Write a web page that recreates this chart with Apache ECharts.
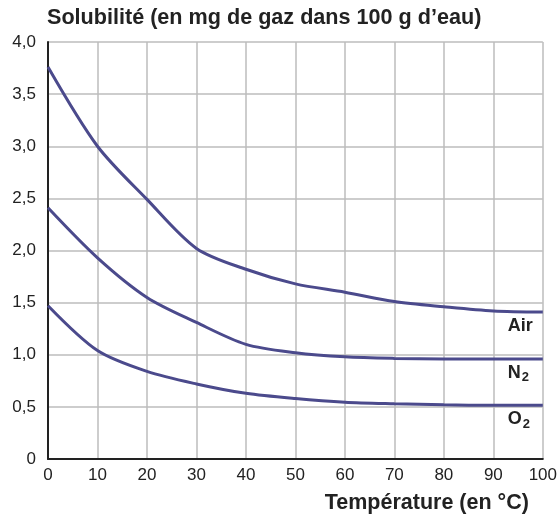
<!DOCTYPE html>
<html>
<head>
<meta charset="utf-8">
<script src="https://cdn.jsdelivr.net/npm/echarts@6/dist/echarts.min.js"></script>
<style>
  html, body { margin: 0; padding: 0; background: #fff; }
  #main { width: 560px; height: 515px; }
</style>
</head>
<body>
<div id="main"></div>
<script>
// températures (°C)
var temperatures = [0, 10, 20, 30, 40, 50, 60, 70, 80, 90, 100];
// solubilité en mg / 100 g d'eau
var airValues = [3.76, 3.00, 2.49, 2.02, 1.82, 1.68, 1.60, 1.51, 1.46, 1.42, 1.41];
var n2Values  = [2.41, 1.93, 1.55, 1.31, 1.10, 1.02, 0.98, 0.965, 0.96, 0.96, 0.96];
var o2Values  = [1.47, 1.04, 0.84, 0.72, 0.63, 0.58, 0.545, 0.53, 0.52, 0.515, 0.515];
var yTickLabels = ['0', '0,5', '1,0', '1,5', '2,0', '2,5', '3,0', '3,5', '4,0'];

var lineColor = '#4b4a8c';
var font = 'Liberation Sans, Arial, sans-serif';

function pairs(vals) {
  return temperatures.map(function(t, i) { return [t, vals[i]]; });
}

function serie(name, vals, labelText) {
  return {
    name: name,
    type: 'line',
    data: pairs(vals),
    smooth: 0.3,
    showSymbol: false,
    lineStyle: { color: lineColor, width: 3 },
    endLabel: {
      show: true,
      formatter: labelText,
      offset: [-43, 14],
      rich: {
        b: { fontFamily: font, fontWeight: 'bold', fontSize: 18, color: '#222' },
        s: { fontFamily: font, fontWeight: 'bold', fontSize: 13, color: '#222', padding: [10, 0, 0, 1] }
      }
    }
  };
}

var chart = echarts.init(document.getElementById('main'));
chart.setOption({
  animation: false,
  title: {
    text: 'Solubilité (en mg de gaz dans 100 g d’eau)',
    left: 47,
    top: 7,
    padding: 0,
    textStyle: { fontFamily: font, fontWeight: 'bold', fontSize: 21.6, color: '#222' }
  },
  grid: { left: 48, right: 17, top: 42, bottom: 56 },
  xAxis: {
    type: 'value',
    min: 0, max: 100, interval: 10,
    name: 'Température (en °C)',
    nameLocation: 'end',
    nameGap: -14,
    nameTextStyle: {
      fontFamily: font, fontWeight: 'bold', fontSize: 21.5, color: '#222',
      align: 'right', verticalAlign: 'top', padding: [33, 0, 0, 0]
    },
    axisLine: { lineStyle: { color: '#222', width: 2 } },
    axisTick: { show: false },
    axisLabel: { fontFamily: font, fontSize: 17, color: '#222', margin: 8 },
    splitLine: { lineStyle: { color: '#bdbdbd', width: 1.5 } }
  },
  yAxis: {
    type: 'value',
    min: 0, max: 4, interval: 0.5,
    axisLine: { show: true, lineStyle: { color: '#222', width: 2 } },
    axisTick: { show: false },
    axisLabel: {
      fontFamily: font, fontSize: 17, color: '#222', margin: 12,
      formatter: function(v) { return yTickLabels[Math.round(v / 0.5)]; }
    },
    splitLine: { lineStyle: { color: '#bdbdbd', width: 1.5 } }
  },
  series: [
    serie('Air', airValues, '{b|Air}'),
    serie('N2', n2Values, '{b|N}{s|2}'),
    serie('O2', o2Values, '{b|O}{s|2}')
  ]
});
</script>
</body>
</html>
